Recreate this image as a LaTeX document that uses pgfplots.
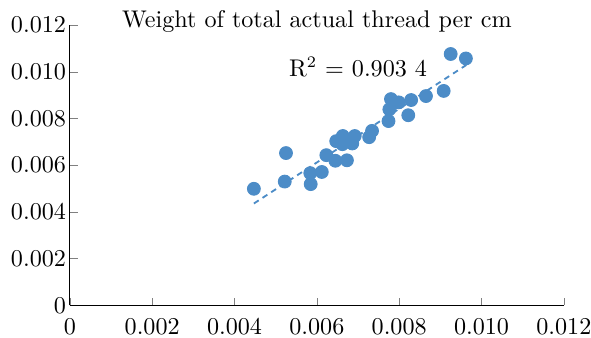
\documentclass[border=0pt]{standalone}
\usepackage{pgfplots}
\pgfplotsset{compat=1.18}
\definecolor{dotblue}{RGB}{76,140,199}
\newcommand{\fs}{\fontsize{10.5}{12.6}\selectfont}
\begin{document}
\begin{tikzpicture}
\begin{axis}[
  name=ax,
  scale only axis,
  width=215pt, height=122pt,
  xmin=0, xmax=0.012, ymin=0, ymax=0.012,
  axis lines*=left,
  tick align=inside,
  major tick length=3.4pt,
  scaled ticks=false,
  xtick={0,0.002,0.004,0.006,0.008,0.010,0.012},
  xticklabels={0,0.002,0.004,0.006,0.008,0.010,0.012},
  ytick={0,0.002,0.004,0.006,0.008,0.010,0.012},
  yticklabels={0,0.002,0.004,0.006,0.008,0.010,0.012},
  tick label style={font=\fs},
  yticklabel style={inner xsep=1.5pt},
  xticklabel style={yshift=-2pt},
  clip=false,
]
\addplot[only marks, mark=*, mark size=2.8pt, dotblue, mark options={draw=dotblue, fill=dotblue}] coordinates {
(0.00447,0.00499)
(0.00525,0.00652)
(0.00522,0.00530)
(0.00584,0.00566)
(0.00585,0.00519)
(0.00612,0.00571)
(0.00623,0.00643)
(0.00645,0.00619)
(0.00673,0.00621)
(0.00647,0.00703)
(0.00663,0.00725)
(0.00662,0.00690)
(0.00686,0.00693)
(0.00692,0.00725)
(0.00727,0.00720)
(0.00734,0.00747)
(0.00774,0.00789)
(0.00776,0.00839)
(0.00780,0.00883)
(0.00799,0.00869)
(0.00822,0.00814)
(0.00829,0.00879)
(0.00865,0.00896)
(0.00908,0.00918)
(0.00925,0.01076)
(0.00962,0.01057)
};
\addplot[dotblue, dashed, line width=0.8pt, dash pattern=on 2.5pt off 2pt] coordinates {
(0.00447,0.00436) (0.00963,0.01029)
};
\node[anchor=base, font=\fs] at (axis cs:0.00700,0.0098) {R$^2$ = 0.903 4};
\node[anchor=base, font=\fs, yshift=-0.9pt] at (rel axis cs:0.5,1) {Weight of total actual thread per cm};
\end{axis}
\pgfresetboundingbox
\path ([xshift=-30.4pt, yshift=-13.9pt]ax.south west) rectangle ([xshift=11.8pt, yshift=10.9pt]ax.north east);
\end{tikzpicture}
\end{document}
